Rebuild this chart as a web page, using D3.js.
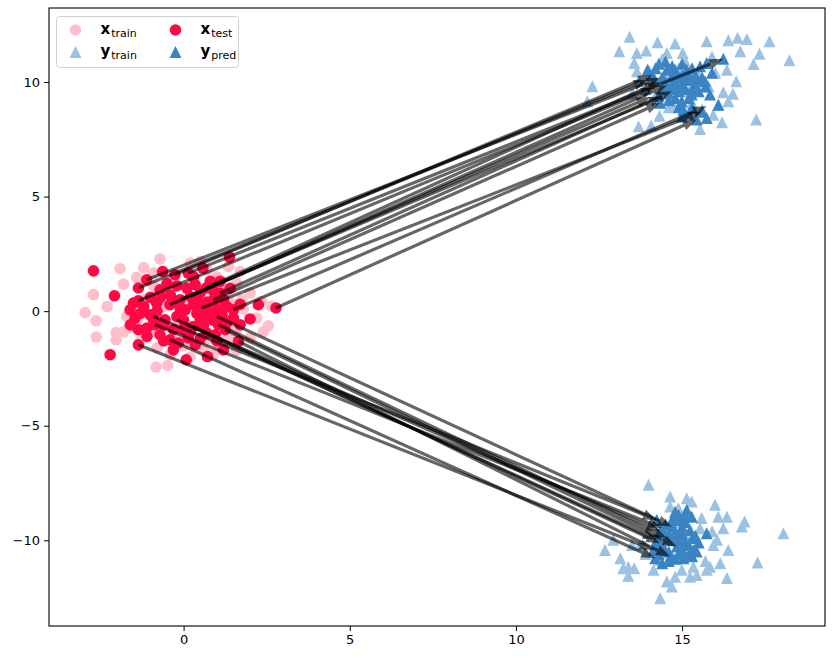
<!DOCTYPE html>
<html><head><meta charset="utf-8">
<script src="https://cdn.jsdelivr.net/npm/d3@7"></script>
<style>body{margin:0;background:#fff;} svg{display:block;font-family:"DejaVu Sans",sans-serif;}</style>
</head><body>
<svg id="c" width="833" height="659"></svg>
<script>
// ---- data ----
const xTicks = [0, 5, 10, 15];
const yTicks = [-10, -5, 0, 5, 10];

const xTrain = [
[-1.91,1.85],[-1.81,1.18],[-2.71,0.72],[-2.96,-0.06],[-2.63,-0.42],[-2.63,-1.13],[-2.03,-0.93],[-2.03,-1.25],
[-1.41,1.47],[-0.71,2.28],[-0.83,-2.44],[-0.48,-2.37],[-0.91,1.66],[-1.71,-0.23],[-1.66,-0.74],[2.00,0.79],
[1.75,0.50],[2.55,-0.64],[2.00,-1.17],[1.60,-0.81],[1.35,1.95],[1.70,1.73],[1.60,1.23],[0.50,2.17],[0.20,2.10],
[2.35,0.42],[2.65,0.21],[1.30,-1.25],[0.60,-1.61],[-0.5,0.8],[0.3,1.2],[-0.2,-0.5],[0.9,0.3],[1.2,-0.3],
[-1.2,0.5],[0.6,-0.2],[-0.8,-1.6],[0.0,-1.5],[1.0,1.5],[-0.3,1.4],[0.4,0.6],[1.5,-1.0],[-1.0,-0.9],[0.8,-1.2],
[0.1,0.2],[-0.6,0.2],[1.8,0.1],[2.2,-0.3],[-1.4,-0.4],[-0.9,1.1],[0.7,1.8],[-0.1,-1.0],[1.3,0.9],[-2.3,0.2],
[-1.8,-0.9],[-0.4,-1.9],[0.9,-1.9],[1.6,-1.7],[-1.2,1.9],[-1.3,-1.3],[0.2,-2.0],[1.1,-1.5],[2.4,-0.9],
[-0.7,-0.4],[1.4,0.4]
];

const xTest = [
[-2.71,1.76],[-2.08,0.67],[-1.36,-1.47],[-2.21,-1.90],[-1.11,1.37],[-0.63,1.73],[-1.36,1.01],[-1.61,0.06],
[-1.46,-0.30],[-1.36,-0.81],[-1.01,-0.16],[-0.86,-0.59],[-0.41,-1.25],[-0.31,-1.69],[-1.11,-0.74],[-1.51,0.35],
[-0.81,0.35],[1.38,2.36],[0.58,1.88],[-0.26,1.59],[0.14,1.66],[1.10,1.30],[0.68,1.01],[2.25,0.28],[2.78,0.14],
[2.00,-0.34],[1.50,0.06],[1.10,0.79],[0.90,0.50],[0.80,-0.01],[0.55,0.14],[0.20,0.64],[-0.11,0.50],[-0.20,-0.23],
[0.29,-0.67],[1.05,-0.59],[0.70,-0.96],[0.14,-1.17],[-0.16,-1.39],[1.65,-1.32],[1.20,-1.69],[0.72,-1.98],
[0.08,-2.12],[-0.71,0.93],[-0.56,-0.38],[0.05,0.06],[0.35,1.15],[-0.41,0.28],[0.50,-0.38],[0.95,-1.03],
[1.25,-0.81],[-0.71,-1.03],[1.70,-0.59],[1.16,-0.16],[0.35,-1.47],[-1.36,0.45],[-0.91,-0.23],[1.0,-0.23],
[-1.2,0.2],[-1.0,0.6],[-0.8,0.0],[-0.6,-0.6],[-0.4,0.7],[-0.3,-0.8],[-0.1,0.1],[0.0,-0.4],[0.1,1.0],[0.2,-0.9],
[0.3,0.3],[0.4,-0.1],[0.5,0.8],[0.6,-0.6],[0.7,0.4],[0.8,1.3],[0.9,-0.4],[1.0,0.1],[1.2,0.5],[1.3,-0.5],
[1.4,1.0],[-0.5,1.2],[-0.2,1.1],[0.3,1.5],[-1.3,-0.1],[-1.1,-1.1],[-0.6,-1.3],[0.0,-0.8],[0.5,-1.2],[1.0,-1.3],
[1.5,-0.3],[1.3,0.2],[-0.9,-0.4],[-0.2,0.4],[0.7,-0.2],[0.4,0.5],[-0.7,0.6],[0.9,0.9],[1.7,0.3],[-1.6,-0.6]
];

const yTrain = [
[13.42,11.97],[13.11,11.34],[14.26,11.73],[14.79,11.68],[15.74,11.78],[16.39,11.82],[16.67,11.93],[16.95,11.88],
[17.63,11.78],[13.92,11.38],[13.64,11.27],[16.75,11.34],[17.33,11.23],[18.23,10.95],[17.15,10.79],[13.56,10.83],
[14.54,11.27],[15.02,11.27],[16.35,10.54],[16.63,10.03],[12.30,9.81],[12.15,9.16],[13.69,8.07],[14.07,8.10],
[15.54,7.95],[16.20,8.24],[17.23,8.36],[14.32,8.53],[16.53,9.49],[16.24,9.55],[16.39,9.16],[13.64,10.47],
[13.69,10.03],[15.90,11.10],[14.74,9.01],[15.94,8.57],[14.5,10.2],[15.2,9.6],[14.9,10.6],[15.5,10.3],[14.2,9.4],
[15.8,9.8],[14.6,8.9],[15.3,9.1],[14.0,10.5],[16.0,10.4],[13.9,9.7],[15.1,10.9],[14.4,11.0],[16.1,9.0],[13.5,9.5],
[15.6,8.8],
[13.99,-7.58],[14.64,-8.09],[15.14,-8.16],[15.29,-8.31],[15.99,-8.45],[16.09,-8.97],[16.35,-8.97],[16.88,-9.18],
[16.80,-9.40],[18.05,-9.69],[16.24,-9.47],[15.59,-9.03],[14.89,-8.60],[14.64,-8.53],[12.93,-9.98],[12.68,-10.42],
[13.14,-10.78],[13.38,-11.15],[13.23,-11.22],[13.56,-11.22],[13.38,-11.55],[14.34,-12.53],[14.54,-11.80],
[14.69,-12.02],[14.79,-11.59],[15.24,-11.59],[15.44,-11.51],[15.74,-11.29],[15.84,-11.15],[16.15,-11.0],
[16.39,-10.42],[16.35,-11.65],[17.27,-10.97],[16.05,-9.98],[14.14,-11.29],[14.34,-10.86],[13.49,-10.20],
[13.74,-10.20],[15.54,-9.47],[15.94,-10.20],[15.34,-11.15],[14.99,-11.29],[14.9,-9.2],[15.4,-10.4],[14.4,-9.6],
[15.7,-10.9],[14.7,-10.7],[15.1,-9.8],[13.9,-10.6],[15.9,-9.6]
];

const yPred = [
[13.96,10.54],[14.19,10.07],[14.54,10.54],[14.79,10.54],[15.14,10.54],[15.54,10.69],[15.74,10.83],[16.24,11.01],
[14.44,9.81],[14.84,9.89],[15.24,10.10],[15.44,10.10],[14.34,9.09],[14.99,9.16],[15.29,9.45],[15.84,9.45],
[16.09,9.01],[15.04,8.79],[15.74,8.43],[14.69,10.25],[15.69,10.03],[15.9,10.40],[14.9,10.2],[15.1,9.7],
[14.6,9.5],[15.4,9.9],[14.8,9.3],[15.2,10.3],[14.4,10.2],[15.0,10.8],[15.3,8.9],[14.7,9.9],[15.44,8.36],
[15.6,8.7],[14.3,9.4],
[14.2,10.6],[14.5,10.0],[14.7,10.7],[14.9,9.6],[15.1,10.1],[15.3,10.6],[15.5,9.6],[14.6,9.2],[14.9,8.9],
[15.2,8.6],[15.0,9.9],[14.8,10.4],[15.4,10.3],[14.4,9.7],[15.6,10.2],[14.3,10.8],[15.0,10.3],[15.2,9.3],
[14.7,9.7],[15.7,9.8],[14.5,10.9],[15.3,9.7],[14.1,10.3],[15.0,8.5],
[15.14,-8.67],[15.74,-9.69],[14.69,-9.40],[14.54,-9.91],[14.34,-10.13],[14.19,-10.78],[14.84,-10.27],
[15.09,-10.06],[15.34,-10.42],[15.44,-10.49],[15.24,-9.55],[14.94,-9.11],[15.04,-10.78],[14.64,-10.71],
[14.49,-10.42],[14.89,-9.76],[15.29,-8.97],[14.79,-8.75],[14.7,-10.0],[15.0,-9.4],[14.6,-10.5],[15.2,-10.2],
[14.9,-10.6],[15.3,-9.9],[14.14,-10.42],[14.24,-9.11],[14.39,-9.46],[14.34,-9.6],[14.24,-9.98],
[14.5,-9.3],[14.8,-9.6],[15.1,-9.2],[14.4,-10.3],[14.9,-10.0],[15.2,-10.6],[14.6,-10.9],[15.0,-10.4],
[14.3,-10.6],[15.4,-9.8],[14.8,-10.8],[15.1,-8.9],[14.7,-9.1],[15.3,-10.7],[14.6,-9.7],[15.0,-9.7],
[14.4,-11.0],[14.9,-8.9],[15.5,-10.1],[14.2,-10.2]
];

// arrows: [x_test x, x_test y, y_pred x, y_pred y]
const arrows = [
[-1.36,1.01,13.96,10.10],[-1.36,0.45,14.19,9.75],[-1.11,1.37,14.34,10.19],[-0.41,0.28,14.05,9.35],
[-0.11,0.50,14.43,9.37],[0.20,0.64,14.54,9.85],[0.68,1.01,14.30,10.0],[0.90,0.50,14.34,9.09],
[0.14,1.66,16.24,11.01],[1.10,0.79,14.69,9.6],[1.50,0.06,15.74,8.94],[2.78,0.14,15.44,8.36],
[0.55,0.14,15.6,8.7],[-0.26,1.59,14.1,10.3],
[-1.36,-1.47,14.14,-10.42],[-0.91,-0.23,14.24,-9.11],[-0.86,-0.59,14.39,-9.46],[-0.20,-0.38,14.34,-9.6],
[0.10,-0.60,14.24,-9.98],[1.00,-0.23,14.69,-9.40],[1.05,-0.59,14.54,-9.91],[1.25,-0.81,14.84,-10.27],
[0.29,-0.67,14.34,-10.13],[-0.41,-1.25,14.19,-10.78],[1.65,-1.32,14.64,-10.71]
];

const legendItems = [
  {main:"x", sub:"train", shape:"circle", color:"#ffc0cb"},
  {main:"y", sub:"train", shape:"tri", color:"#9bc2e3"},
  {main:"x", sub:"test", shape:"circle", color:"#ff0844"},
  {main:"y", sub:"pred", shape:"tri", color:"#3b84c4"}
];

// ---- layout ----
const L = 49, T = 8, W = 776, H = 618;
const svg = d3.select("#c");
const x = d3.scaleLinear().domain([-4.05, 19.3]).range([L, L + W]);
const y = d3.scaleLinear().domain([-13.74, 13.23]).range([T + H, T]);

const g = svg.append("g");
const R = 5.8, S = 12;
const triPath = s => `M0,${-s/2}L${s/2},${s/2}L${-s/2},${s/2}Z`;

g.selectAll(".xtr").data(xTrain).join("circle")
  .attr("cx", d => x(d[0])).attr("cy", d => y(d[1])).attr("r", R).attr("fill", "#ffc0cb");
g.selectAll(".ytr").data(yTrain).join("path")
  .attr("d", triPath(S)).attr("transform", d => `translate(${x(d[0])},${y(d[1])})`).attr("fill", "#9bc2e3");
g.selectAll(".xte").data(xTest).join("circle")
  .attr("cx", d => x(d[0])).attr("cy", d => y(d[1])).attr("r", R).attr("fill", "#ff0844");
g.selectAll(".ypr").data(yPred).join("path")
  .attr("d", triPath(S)).attr("transform", d => `translate(${x(d[0])},${y(d[1])})`).attr("fill", "#3b84c4");

// arrows
function arrowPoly(d) {
  const x0 = x(d[0]), y0 = y(d[1]), x1 = x(d[2]), y1 = y(d[3]);
  const len = Math.hypot(x1 - x0, y1 - y0);
  const ux = (x1 - x0) / len, uy = (y1 - y0) / len, nx = -uy, ny = ux;
  const w = 1.6, hw = 5.2, hl = 14;
  const bx = x1 - ux * hl, by = y1 - uy * hl;
  const p = [[x0 + nx*w, y0 + ny*w],[bx + nx*w, by + ny*w],[bx + nx*hw, by + ny*hw],[x1, y1],
             [bx - nx*hw, by - ny*hw],[bx - nx*w, by - ny*w],[x0 - nx*w, y0 - ny*w]];
  return "M" + p.map(q => q.join(",")).join("L") + "Z";
}
g.selectAll(".arr").data(arrows).join("path")
  .attr("d", arrowPoly).attr("fill", "#000").attr("fill-opacity", 0.6);

// axes
const xa = svg.append("g").attr("transform", `translate(0,${T + H})`)
  .call(d3.axisBottom(x).tickValues(xTicks).tickSize(5).tickPadding(4).tickFormat(d3.format("d")));
const ya = svg.append("g").attr("transform", `translate(${L},0)`)
  .call(d3.axisLeft(y).tickValues(yTicks).tickSize(5).tickPadding(4).tickFormat(d => d < 0 ? "\u2212" + Math.abs(d) : d));
[xa, ya].forEach(a => {
  a.select(".domain").remove();
  a.selectAll("text").attr("font-family", "DejaVu Sans").attr("font-size", 13).attr("fill", "#000");
  a.selectAll("line").attr("stroke", "#000").attr("stroke-width", 1);
});
svg.append("rect").attr("x", L).attr("y", T).attr("width", W).attr("height", H)
  .attr("fill", "none").attr("stroke", "#000").attr("stroke-width", 1.1);

// legend
const lg = svg.append("g");
lg.append("rect").attr("x", 56.5).attr("y", 16.5).attr("width", 182).attr("height", 51).attr("rx", 3)
  .attr("fill", "#fff").attr("fill-opacity", 0.8).attr("stroke", "#d0d0d0");
legendItems.forEach((it, i) => {
  const col = Math.floor(i / 2), row = i % 2;
  const mx = 75.5 + col * 100, my = 30 + row * 22;
  if (it.shape === "circle") lg.append("circle").attr("cx", mx).attr("cy", my).attr("r", R).attr("fill", it.color);
  else lg.append("path").attr("d", triPath(S)).attr("transform", `translate(${mx},${my})`).attr("fill", it.color);
  const t = lg.append("text").attr("x", mx + 25).attr("y", my + 4).attr("font-size", 15).attr("fill", "#000");
  t.append("tspan").attr("font-weight", "bold").text(it.main);
  t.append("tspan").attr("font-size", 11).attr("dy", 3).attr("dx", 1).text(it.sub);
});
</script>
</body></html>
